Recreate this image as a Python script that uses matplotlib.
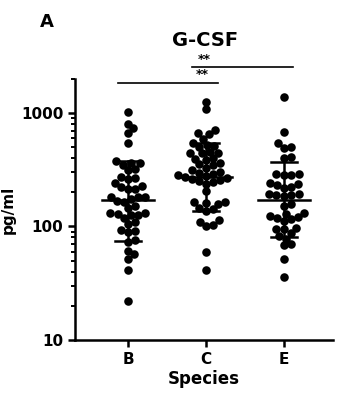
import numpy as np
import matplotlib
matplotlib.use("Agg")
import matplotlib.pyplot as plt
from matplotlib.ticker import LogLocator, NullFormatter, FixedLocator

categories = ["B", "C", "E"]

values_B = [1014, 800, 733, 663, 541, 376, 360, 362, 348, 322, 316, 273, 267, 262,
            241, 227, 216, 216, 221, 174, 181, 181, 183, 165, 168, 150, 146,
            131, 129, 126, 119, 126, 131, 109, 105, 92, 90, 94,
            76, 73, 61, 57, 52, 41, 22]
values_C = [1259, 1084, 708, 660, 648, 590, 544, 520, 505, 512, 455, 441, 446, 446,
            395, 388, 400, 352, 345, 360, 325, 312, 300, 296, 288, 282, 278, 272,
            268, 262, 257, 252, 246, 238, 205, 163, 160, 158, 165, 143, 138,
            146, 114, 110, 103, 101, 59, 41]
values_E = [1393, 676, 541, 505, 494, 410, 400, 292, 285, 283, 290, 244, 238, 232,
            224, 218, 190, 193, 188, 186, 195, 158, 152,
            131, 124, 118, 112, 116, 121, 129, 97, 95, 95, 88, 82, 78, 70, 68, 52, 36]

centers = [171, 273, 170]
upper = [375, 540, 370]
lower = [74.5, 138, 81]

tick_vals = [10, 100, 1000]
tick_labels = ["10", "100", "1000"]

sig_pairs = [(-0.13, 1.15, 1840), (0.82, 2.12, 2540)]
sig_text = ["**", "**"]
sig_text_x = [0.95, 0.98]

fig = plt.figure(figsize=(3.37, 4.03), dpi=100)
ax = fig.add_axes([75/337, (403-340)/403, 258/337, (340-78.8)/403])
ax.set_yscale("log")
ax.set_ylim(10, 2000)
ax.set_xlim(-0.68, 2.63)

# simple beeswarm in pixel space
px_per_x = 78.0
px_per_dec = 113.5
diam = 7.2

def swarm(vals):
    ys = np.log10(np.asarray(vals, float)) * px_per_dec
    order = np.argsort(ys)
    placed = []
    xs = np.zeros(len(ys))
    steps = np.arange(0.5, 60, 0.5)
    cands = np.concatenate([[0], np.ravel(np.column_stack([steps, -steps]))])
    for i in order:
        for c in cands:
            ok = True
            for (px, py) in placed:
                if (px - c) ** 2 + (py - ys[i]) ** 2 < diam ** 2:
                    ok = False
                    break
            if ok:
                xs[i] = c
                placed.append((c, ys[i]))
                break
    return xs / px_per_x

for i, vals in enumerate([values_B, values_C, values_E]):
    off = swarm(vals)
    ax.scatter(i + off, vals, s=38, color="black", zorder=3, linewidths=0)
    ax.plot([i, i], [lower[i], upper[i]], color="black", lw=1.8, zorder=4)
    ax.plot([i - 0.17, i + 0.17], [upper[i], upper[i]], color="black", lw=1.8, zorder=4)
    ax.plot([i - 0.17, i + 0.17], [lower[i], lower[i]], color="black", lw=1.8, zorder=4)
    ax.plot([i - 0.33, i + 0.33], [centers[i], centers[i]], color="black", lw=1.8, zorder=4)

for (x0, x1, y), t, tx in zip(sig_pairs, sig_text, sig_text_x):
    ax.plot([x0, x1], [y, y], color="black", lw=1.2, clip_on=False)
    ax.text(tx, y * 1.03, t, ha="center", va="bottom", fontsize=9, fontweight="bold", clip_on=False)

for s in ["top", "right"]:
    ax.spines[s].set_visible(False)
for s in ["left", "bottom"]:
    ax.spines[s].set_linewidth(1.8)

ax.yaxis.set_major_locator(FixedLocator(tick_vals))
ax.set_yticklabels(tick_labels)
ax.yaxis.set_minor_locator(LogLocator(base=10, subs=np.arange(2, 10)))
ax.yaxis.set_minor_formatter(NullFormatter())
ax.set_xticks(range(len(categories)))
ax.set_xticklabels(categories)
ax.tick_params(axis="both", which="major", width=1.8, length=5, labelsize=11)
ax.tick_params(axis="y", which="minor", width=1.4, length=3)
for lab in ax.get_xticklabels() + ax.get_yticklabels():
    lab.set_fontweight("bold")

ax.set_xlabel("Species", fontsize=12, fontweight="bold", labelpad=2)
ax.set_ylabel("pg/ml", fontsize=11, fontweight="bold", labelpad=4)
fig.text(205/337, 1 - 40/403, "G-CSF", ha="center", va="center", fontsize=14, fontweight="bold")
fig.text(47/337, 1 - 22/403, "A", ha="center", va="center", fontsize=13, fontweight="bold")

fig.savefig("out.png", dpi=100)
